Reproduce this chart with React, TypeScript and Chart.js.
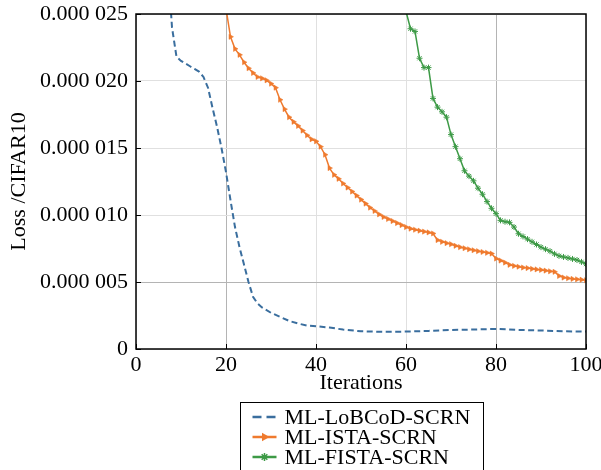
import { useEffect, useRef } from "react";
import { Chart, registerables } from "chart.js";

Chart.register(...registerables);

const FONT = "'Liberation Serif', 'Times New Roman', serif";

const xTickValues = [0, 20, 40, 60, 80, 100];
const yTickValuesMicro = [0, 5, 10, 15, 20, 25];
const seriesNames = ["ML-LoBCoD-SCRN", "ML-ISTA-SCRN", "ML-FISTA-SCRN"];
const xTitle = "Iterations";
const yTitle = "Loss /CIFAR10";

// loss values are given in units of 1e-6
const lobcodIterations = [6, 7, 8, 9, 10, 11, 12, 13, 14, 15, 16, 17, 18, 19, 20, 21, 22, 23, 24, 25, 26, 27, 28, 30, 32, 34, 36, 38, 40, 43, 46, 50, 55, 60, 65, 70, 75, 80, 85, 90, 95, 100];
const lobcodLossMicro = [40, 29, 24, 21.8, 21.5, 21.3, 21.1, 20.9, 20.7, 20.3, 19.5, 18.0, 16.6, 15.0, 13.2, 11.1, 9.1, 7.6, 6.3, 5.0, 3.9, 3.4, 3.1, 2.7, 2.4, 2.1, 1.9, 1.75, 1.7, 1.6, 1.45, 1.32, 1.28, 1.3, 1.35, 1.42, 1.45, 1.5, 1.42, 1.38, 1.32, 1.3];

const istaIterations = [20, 21, 22, 23, 24, 25, 26, 27, 28, 29, 30, 31, 32, 33, 34, 35, 36, 37, 38, 39, 40, 41, 42, 43, 44, 45, 46, 47, 48, 49, 50, 51, 52, 53, 54, 55, 56, 57, 58, 59, 60, 61, 62, 63, 64, 65, 66, 67, 68, 69, 70, 71, 72, 73, 74, 75, 76, 77, 78, 79, 80, 81, 82, 83, 84, 85, 86, 87, 88, 89, 90, 91, 92, 93, 94, 95, 96, 97, 98, 99, 100];
const istaLossMicro = [25.4, 23.3, 22.4, 21.95, 21.4, 20.95, 20.6, 20.3, 20.2, 20.05, 19.8, 19.5, 18.6, 17.9, 17.3, 16.95, 16.65, 16.3, 15.95, 15.65, 15.5, 15.1, 14.5, 13.5, 13.0, 12.7, 12.35, 12.05, 11.75, 11.45, 11.15, 10.85, 10.55, 10.3, 10.05, 9.85, 9.7, 9.55, 9.4, 9.25, 9.1, 8.98, 8.9, 8.83, 8.76, 8.7, 8.62, 8.13, 8.0, 7.9, 7.82, 7.7, 7.6, 7.52, 7.44, 7.37, 7.3, 7.24, 7.18, 7.12, 6.75, 6.6, 6.45, 6.28, 6.2, 6.14, 6.08, 6.04, 5.98, 5.94, 5.9, 5.85, 5.8, 5.76, 5.45, 5.33, 5.28, 5.23, 5.2, 5.17, 5.13];

const fistaIterations = [60, 61, 62, 63, 64, 65, 66, 67, 68, 69, 70, 71, 72, 73, 74, 75, 76, 77, 78, 79, 80, 81, 82, 83, 84, 85, 86, 87, 88, 89, 90, 91, 92, 93, 94, 95, 96, 97, 98, 99, 100];
const fistaLossMicro = [25.2, 23.9, 23.7, 21.7, 21.0, 21.0, 18.7, 18.05, 17.7, 17.3, 16.0, 15.1, 14.2, 13.3, 12.9, 12.55, 12.0, 11.55, 11.0, 10.5, 10.1, 9.6, 9.5, 9.45, 9.1, 8.6, 8.4, 8.2, 8.0, 7.8, 7.6, 7.45, 7.3, 7.1, 6.95, 6.87, 6.8, 6.72, 6.64, 6.5, 6.34];

const COLORS = ["#3a6e9e", "#ef7a2e", "#3d9a46"];

function toPoints(xs: number[], ys: number[]) {
  return xs.map((x, i) => ({ x, y: ys[i] }));
}

function formatY(v: number) {
  if (v === 0) return "0";
  return "0.000 " + String(Math.round(v)).padStart(3, "0");
}

function drawStar(ctx: CanvasRenderingContext2D, x: number, y: number, r: number) {
  ctx.beginPath();
  for (let k = 0; k < 4; k++) {
    const a = (k * Math.PI) / 4;
    ctx.moveTo(x - Math.cos(a) * r, y - Math.sin(a) * r);
    ctx.lineTo(x + Math.cos(a) * r, y + Math.sin(a) * r);
  }
  ctx.stroke();
}

function drawTriRight(ctx: CanvasRenderingContext2D, x: number, y: number, r: number) {
  ctx.beginPath();
  ctx.moveTo(x + r, y);
  ctx.lineTo(x - r * 0.5, y - r * 0.866);
  ctx.lineTo(x - r * 0.5, y + r * 0.866);
  ctx.closePath();
  ctx.fill();
}

const framePlugin = {
  id: "frameAndLegend",
  afterDraw(chart: any) {
    const ctx: CanvasRenderingContext2D = chart.ctx;
    const a = chart.chartArea;
    const xs = chart.scales.x;
    const ys = chart.scales.y;
    ctx.save();
    // inward ticks
    ctx.strokeStyle = "#000";
    ctx.lineWidth = 1;
    ctx.beginPath();
    xTickValues.forEach((v) => {
      const px = Math.round(xs.getPixelForValue(v)) + 0.5;
      ctx.moveTo(px, a.bottom);
      ctx.lineTo(px, a.bottom - 5);
    });
    yTickValuesMicro.forEach((v) => {
      const py = Math.round(ys.getPixelForValue(v)) + 0.5;
      ctx.moveTo(a.left, py);
      ctx.lineTo(a.left + 5, py);
    });
    ctx.stroke();
    // frame
    ctx.lineWidth = 1.5;
    ctx.strokeRect(a.left, a.top, a.right - a.left, a.bottom - a.top);

    // legend
    const cx = (a.left + a.right) / 2;
    const boxW = 243;
    const boxL = Math.round(cx - boxW / 2) + 0.5;
    const boxT = Math.round(a.bottom + 53) + 0.5;
    ctx.lineWidth = 1;
    ctx.strokeStyle = "#000";
    ctx.fillStyle = "#fff";
    ctx.fillRect(boxL, boxT, boxW, 90);
    ctx.strokeRect(boxL, boxT, boxW, 90);
    ctx.font = `22px ${FONT}`;
    ctx.textBaseline = "alphabetic";
    ctx.textAlign = "left";
    seriesNames.forEach((name, i) => {
      const baseY = boxT + 21 + i * 20;
      const midY = baseY - 6.5;
      const x0 = boxL + 12;
      const x1 = boxL + 36;
      ctx.strokeStyle = COLORS[i];
      ctx.fillStyle = COLORS[i];
      if (i === 0) {
        ctx.lineWidth = 2.5;
        ctx.setLineDash([9, 5]);
        ctx.beginPath();
        ctx.moveTo(x0, midY);
        ctx.lineTo(x1, midY);
        ctx.stroke();
        ctx.setLineDash([]);
      } else {
        ctx.lineWidth = 2.5;
        ctx.beginPath();
        ctx.moveTo(x0, midY);
        ctx.lineTo(x1, midY);
        ctx.stroke();
        if (i === 1) {
          drawTriRight(ctx, (x0 + x1) / 2, midY, 5);
        } else {
          ctx.lineWidth = 1.5;
          drawStar(ctx, (x0 + x1) / 2, midY, 4);
        }
      }
      ctx.fillStyle = "#000";
      ctx.fillText(name, boxL + 44, baseY);
    });
    ctx.restore();
  },
};

export default function App() {
  const ref = useRef<HTMLCanvasElement | null>(null);

  useEffect(() => {
    document.body.style.margin = "0";
    const canvas = ref.current;
    if (!canvas) return;
    const font = { family: FONT, size: 22 };
    const chart = new Chart(canvas, {
      type: "line",
      data: {
        datasets: [
          {
            label: seriesNames[0],
            data: toPoints(lobcodIterations, lobcodLossMicro),
            borderColor: COLORS[0],
            backgroundColor: COLORS[0],
            borderWidth: 2,
            borderDash: [6, 3.5],
            pointRadius: 0,
            tension: 0,
            fill: false,
            clip: 0,
          },
          {
            label: seriesNames[1],
            data: toPoints(istaIterations, istaLossMicro),
            borderColor: COLORS[1],
            backgroundColor: COLORS[1],
            borderWidth: 1.5,
            pointStyle: "triangle",
            pointRotation: 90,
            pointRadius: 3,
            pointBorderWidth: 0.5,
            tension: 0,
            fill: false,
            clip: 0,
          },
          {
            label: seriesNames[2],
            data: toPoints(fistaIterations, fistaLossMicro),
            borderColor: COLORS[2],
            backgroundColor: COLORS[2],
            borderWidth: 1.5,
            pointStyle: "star",
            pointRadius: 3,
            pointBorderWidth: 1,
            tension: 0,
            fill: false,
            clip: 0,
          },
        ],
      } as any,
      options: {
        animation: false,
        responsive: false,
        devicePixelRatio: 1,
        layout: { padding: { left: 0, top: 14, right: 15, bottom: 71 } },
        plugins: {
          legend: { display: false },
          tooltip: { enabled: false },
        },
        scales: {
          x: {
            type: "linear",
            min: 0,
            max: 100,
            afterBuildTicks: (s: any) => {
              s.ticks = xTickValues.map((v) => ({ value: v }));
            },
            afterFit: (s: any) => {
              s.height = 50;
              s.paddingLeft = 0;
              s.paddingRight = 0;
            },
            ticks: {
              font,
              color: "#000",
              padding: 3,
              maxRotation: 0,
              autoSkip: false,
              callback: (v: any) => String(v),
            },
            grid: {
              drawTicks: false,
              lineWidth: 1,
              color: (c: any) =>
                c.tick && (c.tick.value === 20 || c.tick.value === 80) ? "#b4b4b4" : "#e0e0e0",
            },
            border: { display: false },
            title: {
              display: true,
              text: xTitle,
              font,
              color: "#000",
              padding: { top: 0, bottom: 3 },
            },
          },
          y: {
            type: "linear",
            min: 0,
            max: 25,
            afterBuildTicks: (s: any) => {
              s.ticks = yTickValuesMicro.map((v) => ({ value: v }));
            },
            afterFit: (s: any) => {
              s.width = 136;
              s.paddingTop = 0;
              s.paddingBottom = 0;
            },
            ticks: {
              font,
              color: "#000",
              padding: 8,
              autoSkip: false,
              callback: (v: any) => formatY(Number(v)),
            },
            grid: {
              drawTicks: false,
              lineWidth: 1,
              color: (c: any) => (c.tick && c.tick.value === 5 ? "#b4b4b4" : "#e0e0e0"),
            },
            border: { display: false },
            title: {
              display: true,
              text: yTitle,
              font,
              color: "#000",
              padding: { top: 6, bottom: 0 },
            },
          },
        },
      } as any,
      plugins: [framePlugin],
    });
    return () => chart.destroy();
  }, []);

  return (
    <canvas
      ref={ref}
      width={601}
      height={470}
      style={{ display: "block", width: "601px", height: "470px" }}
    />
  );
}
